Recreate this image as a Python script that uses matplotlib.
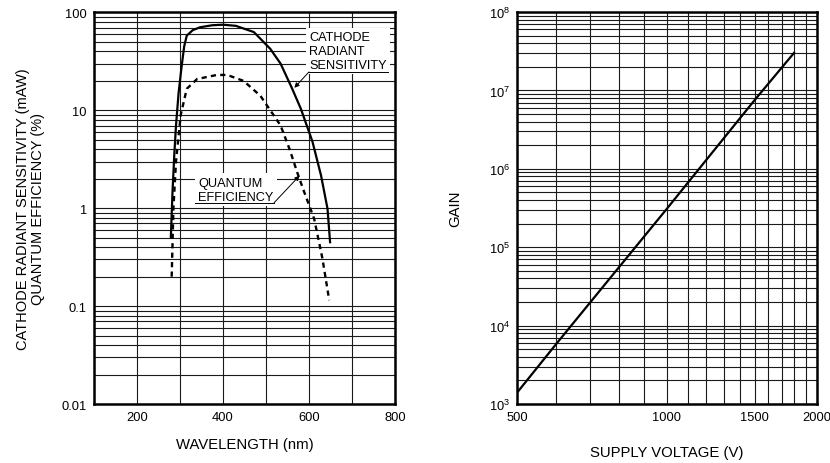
import numpy as np
import matplotlib
matplotlib.use("Agg")
import matplotlib.pyplot as plt
from matplotlib.ticker import FixedLocator, NullFormatter, LogLocator

plt.rcParams['font.family'] = ['Liberation Sans', 'DejaVu Sans']
plt.rcParams['mathtext.default'] = 'regular'

# left panel: spectral response
wl_sens = [279, 283, 287, 291, 297, 304, 310, 316, 330, 347, 375, 400, 430,
           472, 510, 534, 560, 581, 608, 628, 643, 649]
sens = [0.5, 1.5, 3.5, 7, 15, 28, 45, 58, 66, 70.6, 74, 75, 73,
        63, 42.5, 30, 17, 10.4, 4.8, 2.16, 0.99, 0.45]

wl_qe = [281, 285, 291, 297, 302, 307, 316, 340, 386, 410, 448, 487, 518,
         534, 555, 573, 588, 612, 631, 647]
qe = [0.2, 1.0, 3.0, 5.5, 9, 11.2, 16.6, 20.9, 23, 23, 20, 14.1, 8.9,
      7, 4, 2.3, 1.5, 0.78, 0.31, 0.115]

# right panel: gain vs supply voltage
voltage = [500, 600, 800, 1000, 1200, 1500, 1800]
gain = [1.4e3, 5.9e3, 5.5e4, 3.1e5, 1.3e6, 7.5e6, 3.0e7]

wl_ticks = [200, 400, 600, 800]
v_ticks = [500, 1000, 1500, 2000]

fig = plt.figure(figsize=(8.3, 4.64), dpi=100)
ax1 = fig.add_axes([0.113, 0.127, 0.363, 0.844])
ax2 = fig.add_axes([0.623, 0.127, 0.361, 0.845])

grid_kw = dict(color='#1a1a1a', linewidth=0.8)

def style_log_axis(ax):
    ax.set_yscale('log')
    ax.yaxis.set_minor_locator(LogLocator(base=10, subs=np.arange(2, 10)))
    ax.yaxis.set_minor_formatter(NullFormatter())
    ax.grid(True, which='both', axis='both', **grid_kw)
    ax.tick_params(which='both', length=0, labelsize=9.3, pad=5)
    for s in ax.spines.values():
        s.set_linewidth(1.8)
    ax.set_axisbelow(True)

# ---- left
style_log_axis(ax1)
ax1.set_xlim(100, 800)
ax1.set_ylim(0.01, 100)
ax1.set_xticks(wl_ticks)
ax1.xaxis.set_minor_locator(FixedLocator(range(100, 801, 100)))
ax1.set_yticks([0.01, 0.1, 1, 10, 100])
ax1.set_yticklabels(['0.01', '0.1', '1', '10', '100'])

ax1.plot(wl_sens, sens, color='black', lw=1.6, zorder=3)
ax1.plot(wl_qe, qe, color='black', lw=1.7, linestyle=(0, (2.2, 1.8)), zorder=3)

ax1.text(600, 40.5, "CATHODE\nRADIANT\nSENSITIVITY", fontsize=9.2, ha='left', va='center',
         linespacing=1.2, zorder=4,
         bbox=dict(facecolor='white', edgecolor='none', pad=2.5))
ax1.plot([597, 784], [24.7, 24.7], color='black', lw=0.7, zorder=5)
ax1.annotate("", xy=(566, 17), xytext=(600, 24.7), zorder=5,
             arrowprops=dict(arrowstyle='-|>', lw=0.7, color='black', mutation_scale=7,
                             shrinkA=0, shrinkB=0))

ax1.text(343, 1.55, "QUANTUM\nEFFICIENCY", fontsize=9.2, ha='left', va='center',
         linespacing=1.2, zorder=4,
         bbox=dict(facecolor='white', edgecolor='none', pad=2.5))
ax1.plot([336, 519], [1.14, 1.14], color='black', lw=0.7, zorder=5)
ax1.annotate("", xy=(578, 2.15), xytext=(519, 1.14), zorder=5,
             arrowprops=dict(arrowstyle='-|>', lw=0.7, color='black', mutation_scale=7,
                             shrinkA=0, shrinkB=0))

ax1.set_xlabel("WAVELENGTH (nm)", fontsize=10.7)
ax1.xaxis.set_label_coords(0.5, -0.085)
ax1.set_ylabel("CATHODE RADIANT SENSITIVITY (mAW)\nQUANTUM EFFICIENCY (%)", fontsize=10.5,
               linespacing=1.1)
ax1.yaxis.set_label_coords(-0.163, 0.5)

# ---- right
style_log_axis(ax2)
ax2.set_xscale('log')
ax2.set_xlim(500, 2000)
ax2.set_ylim(1e3, 1e8)
ax2.xaxis.set_major_locator(FixedLocator(v_ticks))
ax2.xaxis.set_minor_locator(FixedLocator(range(600, 2000, 100)))
ax2.xaxis.set_major_formatter(plt.FixedFormatter([str(v) for v in v_ticks]))
ax2.xaxis.set_minor_formatter(NullFormatter())
ax2.yaxis.set_major_locator(LogLocator(base=10))
ax2.tick_params(which='both', length=0, labelsize=9.3, pad=5)

ax2.plot(voltage, gain, color='black', lw=1.6, zorder=3)

ax2.set_xlabel("SUPPLY VOLTAGE (V)", fontsize=10.7)
ax2.xaxis.set_label_coords(0.5, -0.105)
ax2.set_ylabel("GAIN", fontsize=10.7)
ax2.yaxis.set_label_coords(-0.183, 0.5)

fig.savefig("out.png", dpi=100)
